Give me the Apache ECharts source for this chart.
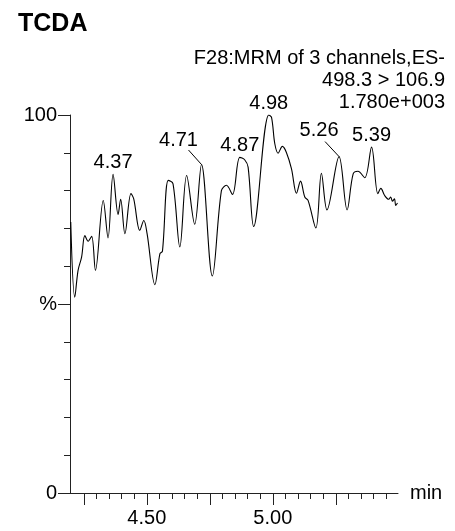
<!DOCTYPE html>
<html>
<head>
<meta charset="utf-8">
<script src="https://cdn.jsdelivr.net/npm/echarts@6/dist/echarts.min.js"></script>
<style>
html, body { margin: 0; padding: 0; background: #fff; }
#main { width: 455px; height: 531px; }
</style>
</head>
<body>
<div id="main"></div>
<script>
// trace (retention time, % of max)
var times = [4.198, 4.214, 4.227, 4.241, 4.254, 4.267, 4.281, 4.296, 4.327, 4.346,
	4.366, 4.386, 4.396, 4.413, 4.437, 4.448, 4.472, 4.488, 4.501, 4.532,
	4.552, 4.562, 4.585, 4.604, 4.631, 4.658, 4.690, 4.717, 4.760, 4.796,
	4.816, 4.840, 4.869, 4.889, 4.902, 4.924, 4.984, 4.995, 5.008, 5.021,
	5.038, 5.054, 5.074, 5.094, 5.110, 5.127, 5.140, 5.171, 5.193, 5.215,
	5.263, 5.295, 5.319, 5.338, 5.365, 5.392, 5.417, 5.429, 5.444, 5.460,
	5.468, 5.475, 5.483, 5.488, 5.495];
var values = [71.7, 51.8, 58.9, 62.4, 68.1, 66.6, 67.9, 58.9, 77.4, 67.5,
	84.3, 73.7, 77.7, 68.6, 79.2, 77.8, 69.5, 72.1, 68.6, 55.1,
	63.3, 64.0, 82.7, 81.8, 65.1, 84.0, 71.1, 86.9, 57.4, 80.0,
	81.4, 79.0, 88.8, 88.1, 86.2, 70.5, 100.0, 99.4, 92.4, 89.9,
	91.7, 90.1, 85.8, 79.3, 82.5, 78.3, 77.4, 70.1, 84.6, 74.9,
	89.0, 74.9, 84.4, 85.1, 83.4, 91.5, 79.2, 80.6, 78.7, 77.7,
	78.3, 77.2, 77.8, 76.1, 76.7];

// labelled peaks (index into the trace)
var peakIdx = [10, 32, 36, 55];
var peakText = ['4.37', '4.87', '4.98', '5.39'];
// peaks whose label sits off to the left with a leader line
var leaderIdx = [27, 50];
var leaderText = ['4.71', '5.26'];

var minorTicks = [4.25, 4.30, 4.35, 4.40, 4.45, 4.50, 4.55, 4.60, 4.65, 4.70,
	4.75, 4.80, 4.85, 4.90, 4.95, 5.00, 5.05, 5.10, 5.15, 5.20, 5.25, 5.30,
	5.35, 5.40, 5.45];
var majorTicks = [4.25, 4.50, 4.75, 5.00, 5.25];
var xLabels = [4.50, 5.00];
var yLabelValues = [0, 50, 100];
var yLabelTexts = ['0', '%', '100'];
var headerLines = ['F28:MRM of 3 channels,ES-', '498.3 > 106.9', '1.780e+003'];

var FONT = 'Liberation Sans';
var FS = 20;
var INK = '#000';
var AXIS = '#222';
// pixel offsets of the leader labels: [label dx, label dy, line dx, line dy]
var leaderOffset = [[-23, -24, -13, -14.5], [-20, -26.5, -14, -15]];

var trace = times.map(function(t, i) { return [t, values[i]]; });
var peaks = peakIdx.map(function(k, i) { return [times[k], values[k], peakText[i]]; });
var leaders = leaderIdx.map(function(k, i) { return [times[k], values[k], leaderText[i]]; });

var chart = echarts.init(document.getElementById('main'));

var xBase = {
	type: 'value',
	min: 4.195,
	max: 5.497,
	gridIndex: 0,
	position: 'bottom',
	splitLine: { show: false }
};

var option = {
	animation: false,
	backgroundColor: '#fff',
	grid: { left: 70, right: 57, top: 115, bottom: 38 },
	xAxis: [
		Object.assign({}, xBase, {
			axisLine: { lineStyle: { color: AXIS, width: 1 } },
			axisTick: { customValues: minorTicks, length: 6, lineStyle: { color: AXIS } },
			axisLabel: {
				customValues: xLabels,
				margin: 15,
				fontSize: FS,
				fontFamily: FONT,
				color: INK,
				formatter: function(v) { return v.toFixed(2); }
			},
			name: 'min',
			nameLocation: 'end',
			nameGap: 12,
			nameTextStyle: { fontSize: FS, fontFamily: FONT, color: INK, verticalAlign: 'middle' }
		}),
		Object.assign({}, xBase, {
			axisLine: { show: false },
			axisTick: { customValues: majorTicks, length: 12, lineStyle: { color: AXIS } },
			axisLabel: { show: false }
		})
	],
	yAxis: [
		{
			type: 'value', min: 0, max: 100, interval: 10, position: 'left',
			splitLine: { show: false },
			axisLine: { show: true, lineStyle: { color: AXIS, width: 1 } },
			axisTick: { show: true, length: 6, lineStyle: { color: AXIS } },
			axisLabel: { show: false }
		},
		{
			type: 'value', min: 0, max: 100, position: 'left',
			splitLine: { show: false },
			axisLine: { show: false },
			axisTick: { show: true, customValues: yLabelValues, length: 12, lineStyle: { color: AXIS } },
			axisLabel: {
				customValues: yLabelValues,
				margin: 13,
				fontSize: FS,
				fontFamily: FONT,
				color: INK,
				formatter: function(v) { return yLabelTexts[yLabelValues.indexOf(v)]; }
			}
		}
	],
	graphic: [{
		type: 'text',
		left: 18,
		top: 12,
		style: { text: 'TCDA', font: 'bold 25px ' + FONT, fill: INK }
	}].concat(headerLines.map(function(s, i) {
		return {
			type: 'text',
			x: 445,
			y: 58.5 + i * 22,
			style: { text: s, font: FS + 'px ' + FONT, fill: INK, align: 'right', verticalAlign: 'middle' }
		};
	})),
	series: [
		{
			type: 'line',
			data: trace,
			smooth: 0.35,
			showSymbol: false,
			lineStyle: { color: INK, width: 1.1 },
			z: 2
		},
		{
			type: 'scatter',
			data: peaks,
			symbolSize: 0,
			itemStyle: { opacity: 1 },
			label: {
				show: true, position: 'top', distance: 2, opacity: 1,
				fontSize: FS, fontFamily: FONT, color: INK,
				formatter: function(p) { return p.data[2]; }
			}
		},
		{
			type: 'custom',
			data: leaders,
			renderItem: function(params, api) {
				var p = api.coord([api.value(0), api.value(1)]);
				var o = leaderOffset[params.dataIndex];
				return {
					type: 'group',
					children: [{
						type: 'line',
						shape: { x1: p[0], y1: p[1], x2: p[0] + o[2], y2: p[1] + o[3] },
						style: { stroke: INK, lineWidth: 1 }
					}, {
						type: 'text',
						x: p[0] + o[0],
						y: p[1] + o[1],
						style: {
							text: leaderText[params.dataIndex],
							font: FS + 'px ' + FONT,
							fill: INK,
							align: 'center',
							verticalAlign: 'middle'
						}
					}]
				};
			}
		}
	]
};

chart.setOption(option);
</script>
</body>
</html>
